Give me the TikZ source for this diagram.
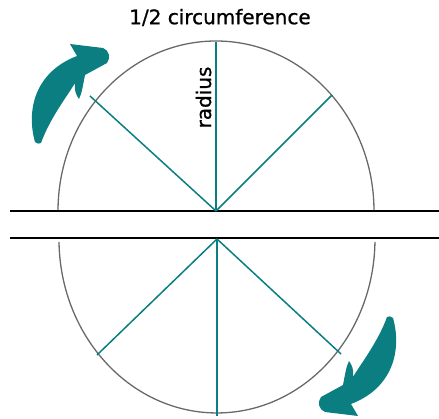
\documentclass[tikz,border=0pt]{standalone}
\usepackage{fontspec}
\setmainfont{DejaVu Sans}
\newfontfamily\medfont{DejaVu Sans}[FakeBold=0.9]
\definecolor{tealc}{RGB}{10,126,128}
\definecolor{arcgray}{RGB}{105,105,105}
\tikzset{
  baseline/.style={black, line width=1.8pt},
  rim/.style={arcgray, line width=1.3pt},
  spoke/.style={tealc, line width=1.5pt},
  arrowfill/.style={fill=tealc, draw=none},
  label/.style={font=\medfont\fontsize{20}{22}\selectfont, inner sep=0pt}
}
\newcommand{\curvedarrowpath}{(35,142)
      .. controls (26,110) and (35,72) .. (77,56)
      -- (70,44)
      -- (103,48) .. controls (109,50) and (111,58) .. (107,63)
      -- (85,75)
      .. controls (83,85) and (82,93) .. (79,99)
      .. controls (76,95) and (74,90) .. (75,83)
      .. controls (68,95) and (50,118) .. (41,143)
      .. controls (39,144) and (37,144) .. (35,142) -- cycle}
\begin{document}
\begin{tikzpicture}[x=1pt,y=-1pt]
\useasboundingbox (0,0) rectangle (439,419);
% coordinates
\coordinate (tc) at (216,211);
\coordinate (bc) at (217,239);
\coordinate (tl) at (10,211);
\coordinate (tr) at (439,211);
\coordinate (bl) at (10,238);
\coordinate (br) at (439,238);
\coordinate (tup) at (216,42);
\coordinate (tleft) at (90,96);
\coordinate (tright) at (332,95);
\coordinate (bdown) at (217,416);
\coordinate (bleft) at (97,355);
\coordinate (bright) at (341,354);
% rims
\draw[rim] (tc) ++(-158,0) arc[start angle=180, end angle=360, x radius=158, y radius=170];
\draw[rim] (bc) ++(-158,3) arc[start angle=179, end angle=1, x radius=158, y radius=174];
% base lines
\draw[baseline] (tl) -- (tr);
\draw[baseline] (bl) -- (br);
% spokes
\draw[spoke] (tc) -- (tup);
\draw[spoke] (tc) -- (tleft);
\draw[spoke] (tc) -- (tright);
\draw[spoke] (bc) -- (bdown);
\draw[spoke] (bc) -- (bleft);
\draw[spoke] (bc) -- (bright);
% arrows
\path[arrowfill] \curvedarrowpath;
\begin{scope}[rotate around={180:(214,230)}]
\path[arrowfill] \curvedarrowpath;
\end{scope}
% labels
\node[label] (title) at (220,17.5) {1/2 circumference};
\node[label, rotate=90, anchor=base] (rad) at (211,97.5) {radius};
\end{tikzpicture}
\end{document}
